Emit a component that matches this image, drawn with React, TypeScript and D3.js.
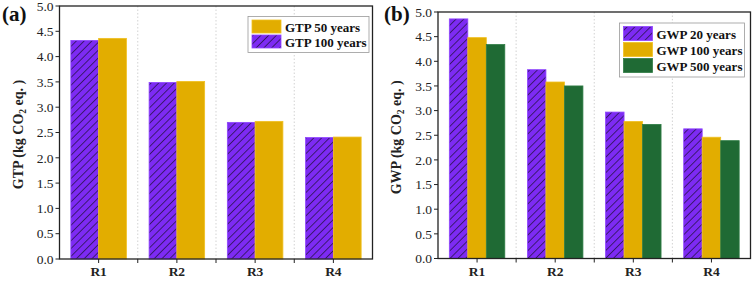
import * as d3 from "d3";

const categories = ["R1", "R2", "R3", "R4"];
const yTicks = [0, 0.5, 1, 1.5, 2, 2.5, 3, 3.5, 4, 4.5, 5];

// panel (a)
const gtpSeries = ["GTP 100 years", "GTP 50 years"];
const gtp100 = [4.32, 3.49, 2.7, 2.4];
const gtp50 = [4.36, 3.51, 2.72, 2.41];
const gtpLegend = ["GTP 50 years", "GTP 100 years"];

// panel (b)
const gwpSeries = ["GWP 20 years", "GWP 100 years", "GWP 500 years"];
const gwp20 = [4.86, 3.83, 2.97, 2.63];
const gwp100 = [4.48, 3.58, 2.78, 2.46];
const gwp500 = [4.34, 3.5, 2.72, 2.39];

const fills: Record<string, string> = {
  "GTP 100 years": "url(#hatch)",
  "GTP 50 years": "#e2ad00",
  "GWP 20 years": "url(#hatch)",
  "GWP 100 years": "#e2ad00",
  "GWP 500 years": "#1f6a34",
};
const strokes: Record<string, string> = {
  "GTP 100 years": "#8f45ff",
  "GTP 50 years": "#f0c020",
  "GWP 20 years": "#8f45ff",
  "GWP 100 years": "#f0c020",
  "GWP 500 years": "#2e7c44",
};

const font = "Liberation Serif";

function Panel({
  left,
  right,
  top,
  bottom,
  series,
  values,
  legend,
  legendBox,
  label,
  tag,
  tagX,
}: {
  left: number;
  right: number;
  top: number;
  bottom: number;
  series: string[];
  values: number[][];
  legend: string[];
  legendBox: { x: number; y: number; w: number; row: number };
  label: string;
  tag: string;
  tagX: number;
}) {
  const x = d3.scaleBand(categories, [left, right]).paddingInner(0.29).paddingOuter(0.145);
  const x1 = d3.scaleBand(series, [0, x.bandwidth()]);
  const y = d3.scaleLinear([0, 5], [bottom, top]);
  const step = x.step();
  const bounds = categories.slice(1).map((c) => (x(c) as number) - (step - x.bandwidth()) / 2);
  const centers = categories.map((c) => (x(c) as number) + x.bandwidth() / 2);
  const midY = (top + bottom) / 2 + 2;

  return (
    <g>
      {bounds.map((b, i) => (
        <line key={i} x1={b} x2={b} y1={top} y2={bottom} stroke="#c8c8c8" strokeWidth={0.8} strokeDasharray="1.5,2" />
      ))}
      {series.map((s, si) =>
        categories.map((c, ci) => (
          <rect
            key={s + c}
            x={(x(c) as number) + (x1(s) as number)}
            y={y(values[si][ci])}
            width={x1.bandwidth()}
            height={y(0) - y(values[si][ci])}
            fill={fills[s]}
            stroke={strokes[s]}
            strokeWidth={0.8}
          />
        ))
      )}
      <rect x={left} y={top} width={right - left} height={bottom - top} fill="none" stroke="#222" strokeWidth={1.3} />
      {yTicks.map((t) => (
        <g key={t}>
          <line x1={left - 4} x2={left} y1={y(t)} y2={y(t)} stroke="#222" strokeWidth={1} />
          <text x={left - 6} y={y(t)} dy="0.35em" textAnchor="end" fontSize={13.5} fill="#222" fontFamily={font}>
            {t.toFixed(1)}
          </text>
        </g>
      ))}
      {[...bounds, ...centers].map((b, i) => (
        <line key={i} x1={b} x2={b} y1={bottom} y2={bottom + 4} stroke="#222" strokeWidth={1} />
      ))}
      {categories.map((c, i) => (
        <text
          key={c}
          x={centers[i]}
          y={bottom + 17}
          textAnchor="middle"
          fontSize={13.5}
          fontWeight="bold"
          fill="#222"
          fontFamily={font}
        >
          {c}
        </text>
      ))}
      <text
        transform={`translate(${left - 37},${midY}) rotate(-90)`}
        textAnchor="middle"
        fontSize={14}
        fontWeight="bold"
        fill="#222"
        fontFamily={font}
      >
        {label} (kg CO<tspan fontSize={9.5} dy={3}>2</tspan>
        <tspan dy={-3}> eq. )</tspan>
      </text>
      <text x={tagX} y={21} fontSize={21} fontWeight="bold" fill="#111" fontFamily={font}>
        {tag}
      </text>
      <rect
        x={legendBox.x}
        y={legendBox.y}
        width={legendBox.w}
        height={legend.length * legendBox.row + 6}
        fill="#fff"
        stroke="#999"
        strokeWidth={0.8}
      />
      {legend.map((s, i) => (
        <g key={s}>
          <rect
            x={legendBox.x + 4}
            y={legendBox.y + 3.5 + i * legendBox.row}
            width={29}
            height={legendBox.row - 2}
            fill={fills[s]}
            stroke={strokes[s]}
            strokeWidth={0.8}
          />
          <text
            x={legendBox.x + 37}
            y={legendBox.y + 3 + i * legendBox.row + legendBox.row / 2}
            dy="0.35em"
            fontSize={13}
            fontWeight="bold"
            fill="#111"
            fontFamily={font}
          >
            {s}
          </text>
        </g>
      ))}
    </g>
  );
}

export default function App() {
  return (
    <svg width={756} height={281} style={{ position: "absolute", left: 0, top: 0, background: "#fff" }}>
      <defs>
        <pattern id="hatch" patternUnits="userSpaceOnUse" width={5.5} height={5.5} patternTransform="rotate(45)">
          <rect width={5.5} height={5.5} fill="#7d2bf3" />
          <line x1={0} y1={0} x2={0} y2={5.5} stroke="#1a1030" strokeWidth={1.3} />
        </pattern>
      </defs>
      <Panel
        left={59.5}
        right={372.5}
        top={6}
        bottom={259}
        series={gtpSeries}
        values={[gtp100, gtp50]}
        legend={gtpLegend}
        legendBox={{ x: 248, y: 16.5, w: 121, row: 15 }}
        label="GTP"
        tag="(a)"
        tagX={2}
      />
      <Panel
        left={438}
        right={750.5}
        top={12}
        bottom={258.5}
        series={gwpSeries}
        values={[gwp20, gwp100, gwp500]}
        legend={gwpSeries}
        legendBox={{ x: 619.5, y: 23, w: 125, row: 16 }}
        label="GWP"
        tag="(b)"
        tagX={384}
      />
    </svg>
  );
}
